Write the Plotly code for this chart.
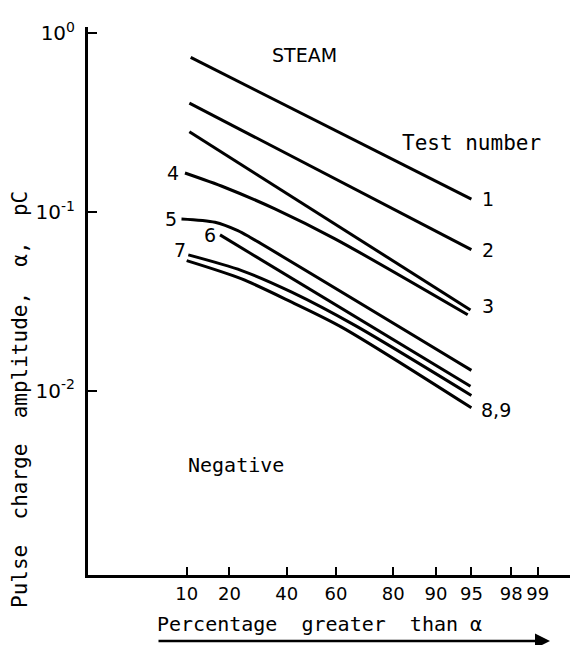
import math
import plotly.graph_objects as go
from statistics import NormalDist

# ---- data (percentage greater than alpha, pulse charge amplitude pC) ----
pct_1 = [10.75, 95.0]
val_1 = [0.731, 0.118]
pct_2 = [10.5, 95.0]
val_2 = [0.406, 0.0616]
pct_3 = [10.5, 94.9]
val_3 = [0.281, 0.0283]
pct_4 = [9.7, 18.75, 35.4, 59.6, 94.6]
val_4 = [0.165, 0.137, 0.104, 0.0707, 0.0266]
pct_5 = [9.1, 16.1, 22.5, 26.4, 95.0]
val_5 = [0.0914, 0.0876, 0.0786, 0.0722, 0.0130]
pct_6 = [17.4, 94.9]
val_6 = [0.0744, 0.0106]
pct_7 = [10.3, 23.7, 42.0, 67.3, 95.0]
val_7 = [0.0575, 0.0470, 0.0356, 0.0232, 0.00941]
pct_89 = [10.0, 23.7, 42.0, 62.2, 95.0]
val_89 = [0.0534, 0.0422, 0.0313, 0.0227, 0.00803]

tick_pct = [10, 20, 40, 60, 80, 90, 95, 98, 99]
tick_lbl = ["10", "20", "40", "60", "80", "90", "95", "98", "99"]
ytick_vals = [1.0, 0.1, 0.01]
ytick_lbl = ["10<sup>0</sup>", "10<sup>-1</sup>", "10<sup>-2</sup>"]

nd = NormalDist()


def probit(ps):
    return [nd.inv_cdf(p / 100.0) for p in ps]


W, H = 570, 645
ML, MR, MT, MB = 88, 0, 27, 70
PW, PH = W - ML - MR, H - MT - MB


def px(x):
    return (x - ML) / PW


def py(y):
    return (H - MB - y) / PH


FONT = "DejaVu Sans"
MONO = "DejaVu Sans Mono"
NB = "\u00a0"
fig = go.Figure()

series = [
    (pct_1, val_1, "linear"),
    (pct_2, val_2, "linear"),
    (pct_3, val_3, "linear"),
    (pct_4, val_4, "spline"),
    (pct_5, val_5, "spline"),
    (pct_6, val_6, "linear"),
    (pct_7, val_7, "spline"),
    (pct_89, val_89, "spline"),
]
for p, v, shape in series:
    fig.add_trace(go.Scatter(
        x=probit(p), y=v, mode="lines",
        line=dict(color="black", width=3, shape=shape, smoothing=0.8),
        showlegend=False, hoverinfo="skip"))

fig.update_layout(
    width=W, height=H,
    margin=dict(l=ML, r=MR, t=MT, b=MB),
    paper_bgcolor="white", plot_bgcolor="white",
    font=dict(family=FONT, size=17, color="black"),
    showlegend=False,
)
fig.update_xaxes(
    range=[(ML - 311.35) / 97.3, (W - 311.35) / 97.3],
    tickvals=probit(tick_pct), ticktext=tick_lbl,
    ticks="inside", ticklen=8, tickwidth=2, tickcolor="black",
    showline=True, linecolor="black", linewidth=3,
    showgrid=False, zeroline=False,
    tickfont=dict(family=FONT, size=18),
)
fig.update_yaxes(
    type="log", range=[-3.03, 0.034],
    tickvals=ytick_vals, ticktext=ytick_lbl,
    ticks="inside", ticklen=9, tickwidth=2, tickcolor="black",
    showline=True, linecolor="black", linewidth=3,
    showgrid=False, zeroline=False,
    ticklabelstandoff=6,
    tickfont=dict(family=FONT, size=20),
)

ann = []


def lab(text, x, y, xanchor, xshift):
    ann.append(dict(text=text, x=x, y=y, xref="x", yref="y",
                    showarrow=False, xanchor=xanchor, yanchor="middle",
                    xshift=xshift, font=dict(family=FONT, size=19)))


lab("1", probit([pct_1[-1]])[0], math.log10(val_1[-1]), "left", 9)
lab("2", probit([pct_2[-1]])[0], math.log10(val_2[-1]), "left", 9)
lab("3", probit([pct_3[-1]])[0], math.log10(val_3[-1]) + 0.02, "left", 10)
lab("8,9", probit([pct_89[-1]])[0], math.log10(val_89[-1]) - 0.01, "left", 8)
lab("4", probit([pct_4[0]])[0], math.log10(val_4[0]), "right", -4)
lab("5", probit([pct_5[0]])[0], math.log10(val_5[0]), "right", -2)
lab("6", probit([pct_6[0]])[0], math.log10(val_6[0]), "right", -2)
lab("7", probit([pct_7[0]])[0], math.log10(val_7[0]) + 0.03, "right", 0)

for text, x, y, fam, sz in [("STEAM", 304, 55, FONT, 19),
                            ("Test" + NB + "number", 471, 143, MONO, 21),
                            ("Negative", 236, 465, MONO, 20)]:
    ann.append(dict(text=text, x=px(x), y=py(y), xref="paper", yref="paper",
                    showarrow=False, xanchor="center", yanchor="middle",
                    font=dict(family=fam, size=sz)))

ytitle = (NB * 2).join(["Pulse", "charge", "amplitude,", "α,", "pC"])
ann.append(dict(text=ytitle, x=px(20), y=py(400),
                xref="paper", yref="paper", showarrow=False, textangle=-90,
                xanchor="center", yanchor="middle", font=dict(family=MONO, size=21)))
xtitle = "Percentage" + NB * 2 + "greater" + NB * 2 + "than" + NB + "α"
ann.append(dict(text=xtitle, x=px(155), y=py(624),
                xref="paper", yref="paper", showarrow=False,
                xanchor="left", yanchor="middle", font=dict(family=MONO, size=20)))
ann.append(dict(text="", x=px(550), y=py(641), xref="paper", yref="paper",
                ax=-393, ay=0, axref="pixel", ayref="pixel",
                showarrow=True, arrowhead=2, arrowsize=1.2, arrowwidth=2.5,
                arrowcolor="black"))
fig.update_layout(annotations=ann)

fig.write_html("out.html")
